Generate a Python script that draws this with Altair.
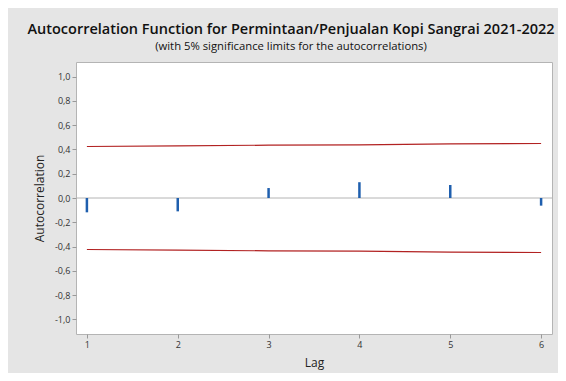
import altair as alt
import pandas as pd

lags = [1, 2, 3, 4, 5, 6]
acf = [-0.118, -0.110, 0.082, 0.130, 0.107, -0.063]
upper = [0.424, 0.430, 0.435, 0.438, 0.445, 0.449]
lower = [-0.424, -0.430, -0.435, -0.438, -0.445, -0.449]
y_ticks = [-1.0, -0.8, -0.6, -0.4, -0.2, 0.0, 0.2, 0.4, 0.6, 0.8, 1.0]

df = pd.DataFrame({"lag": lags, "acf": acf, "upper": upper, "lower": lower, "zero": [0.0] * 6})
zero_df = pd.DataFrame({"y": [0.0]})

FONT = "Open Sans"
xscale = alt.Scale(domain=[0.88, 6.12], nice=False, zero=False)
yscale = alt.Scale(domain=[-1.12, 1.12], nice=False)

x_axis = alt.Axis(values=lags, tickCount=20, title="Lag", format="d", grid=False, tickSize=4,
                  labelFontSize=9, titleFontSize=12, titleFontWeight="normal", titlePadding=8,
                  domain=False, labelOverlap=False,
                  labelColor="#333333", titleColor="#222222", tickColor="#999999",
                  labelFont=FONT, titleFont=FONT)
y_axis = alt.Axis(values=y_ticks, tickCount=20, title="Autocorrelation", grid=False, tickSize=4,
                  labelExpr="replace(replace(format(datum.value, '.1f'), '.', ','), '\u2212', '-')",
                  labelFontSize=9, titleFontSize=12, titleFontWeight="normal", titlePadding=8,
                  domain=False, labelOverlap=False,
                  labelColor="#333333", titleColor="#222222", tickColor="#999999",
                  labelFont=FONT, titleFont=FONT)

base = alt.Chart(df)

zero_line = alt.Chart(zero_df).mark_rule(color="#b4b4b4", strokeWidth=1).encode(
    y=alt.Y("y:Q", scale=yscale, axis=y_axis)
)

bars = base.mark_rule(color="#1f5fae", strokeWidth=2.5).encode(
    x=alt.X("lag:Q", scale=xscale, axis=x_axis),
    y=alt.Y("acf:Q", scale=yscale),
    y2="zero:Q",
)

up = base.mark_line(color="#b22222", strokeWidth=1.2).encode(
    x=alt.X("lag:Q", scale=xscale), y=alt.Y("upper:Q", scale=yscale)
)
lo = base.mark_line(color="#b22222", strokeWidth=1.2).encode(
    x=alt.X("lag:Q", scale=xscale), y=alt.Y("lower:Q", scale=yscale)
)

chart = alt.layer(zero_line, bars, up, lo).properties(
    width=476,
    height=272,
    autosize=alt.AutoSizeParams(type="none"),
    padding={"left": 68, "right": 6, "top": 54, "bottom": 39},
    background="#e5e5e5",
    title=alt.TitleParams(
        text="Autocorrelation Function for Permintaan/Penjualan Kopi Sangrai 2021-2022",
        subtitle="(with 5% significance limits for the autocorrelations)",
        anchor="middle", dx=-23, offset=9,
        font=FONT, fontSize=14.5, fontWeight=600, color="#111111",
        subtitleFont=FONT, subtitleFontSize=11.3, subtitleColor="#111111", subtitlePadding=3,
    ),
).configure_view(fill="white", stroke="#b4b4b4", strokeWidth=1)

chart.save("out.html", embed_options={"renderer": "svg", "actions": False})
